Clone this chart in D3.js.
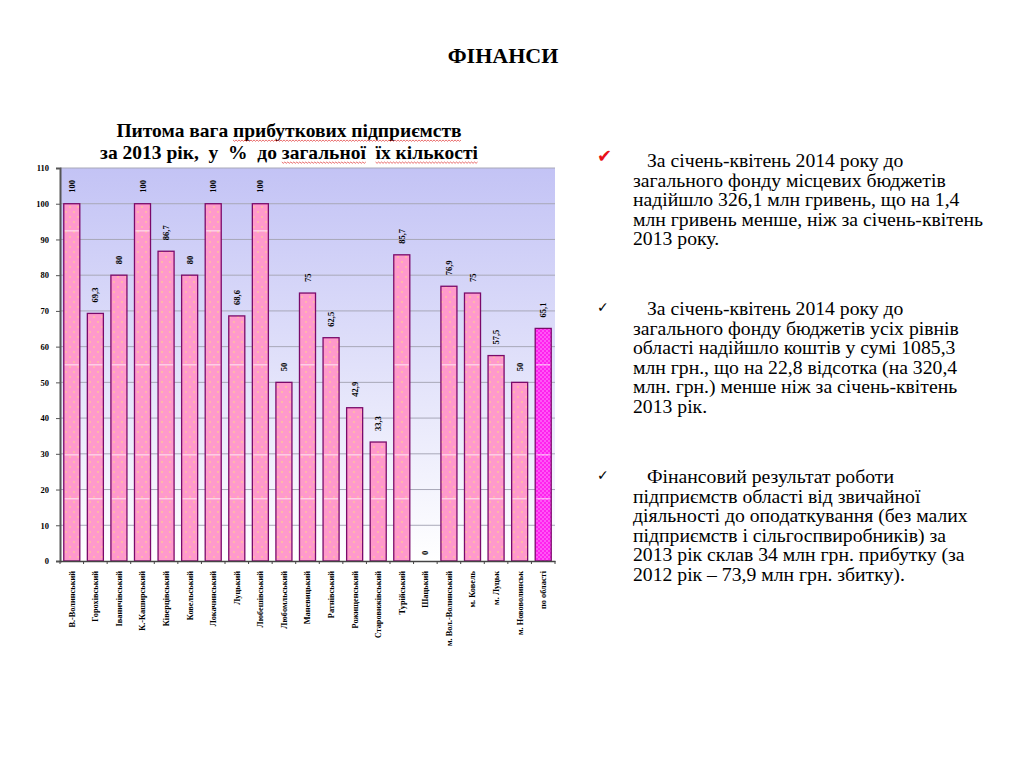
<!DOCTYPE html>
<html><head><meta charset="utf-8">
<script src="https://cdn.jsdelivr.net/npm/d3@7"></script>
<style>
html,body{margin:0;padding:0;background:#fff;}
svg{display:block;}
text{font-family:"Liberation Serif","Tinos","DejaVu Serif",serif;}
</style></head>
<body>
<svg id="c" width="1024" height="768"></svg>
<script>
const categories = ["В.-Волинський","Горохівський","Іваничівський","К.-Каширський","Ківерцівський","Ковельський","Локачинський","Луцький","Любешівський","Любомльський","Маневицький","Ратнівський","Рожищенський","Старовижівський","Турійський","Шацький","м. Вол.-Волинський","м. Ковель","м. Луцьк","м. Нововолинськ","по області"];
const values = [100,69.3,80,100,86.7,80,100,68.6,100,50,75,62.5,42.9,33.3,85.7,0,76.9,75,57.5,50,65.1];
const yTicks = [0,10,20,30,40,50,60,70,80,90,100,110];
const pageTitle = "ФІНАНСИ";
const chartTitle = ["Питома вага прибуткових підприємств","за 2013 рік,  у  %  до загальної  їх кількості"];
const paragraphs = [
  ["За січень-квітень 2014 року до","загального фонду місцевих бюджетів","надійшло 326,1 млн гривень, що на 1,4","млн гривень менше, ніж за січень-квітень","2013 року."],
  ["За січень-квітень 2014 року до","загального фонду бюджетів усіх рівнів","області надійшло коштів у сумі 1085,3","млн грн., що на 22,8 відсотка (на 320,4","млн. грн.) менше ніж за січень-квітень","2013 рік."],
  ["Фінансовий результат роботи","підприємств області від звичайної","діяльності до оподаткування (без малих","підприємств і сільгоспвиробників) за","2013 рік склав 34 млн грн. прибутку (за","2012 рік – 73,9 млн грн. збитку)."]
];

(function(){
const svg = d3.select("#c");
const defs = svg.append("defs");

const grad = defs.append("linearGradient").attr("id","bg").attr("x1",0).attr("y1",0).attr("x2",0).attr("y2",1);
grad.append("stop").attr("offset","0%").attr("stop-color","#c3c3f5");
grad.append("stop").attr("offset","100%").attr("stop-color","#ffffff");

const p1 = defs.append("pattern").attr("id","dots").attr("patternUnits","userSpaceOnUse").attr("width",8).attr("height",10);
p1.append("rect").attr("width",8).attr("height",10).attr("fill","#ff99cc");
p1.append("circle").attr("cx",2).attr("cy",2).attr("r",0.9).attr("fill","#ffc499");
p1.append("circle").attr("cx",6).attr("cy",7).attr("r",0.9).attr("fill","#ffc499");

const p2 = defs.append("pattern").attr("id","dots2").attr("patternUnits","userSpaceOnUse").attr("width",4).attr("height",4);
p2.append("rect").attr("width",4).attr("height",4).attr("fill","#ff22ee");
p2.append("circle").attr("cx",1).attr("cy",1).attr("r",0.8).attr("fill","#ff99ff");
p2.append("circle").attr("cx",3).attr("cy",3).attr("r",0.8).attr("fill","#ff99ff");

svg.append("text").attr("x",503).attr("y",63).attr("text-anchor","middle")
  .attr("font-weight","bold").attr("font-size",22).text(pageTitle);

const L=60, R=555, T=168, B=561;
const x = d3.scaleBand().domain(categories).range([L,R]).paddingInner(0.32).paddingOuter(0.16);
const y = d3.scaleLinear().domain([0,110]).range([B,T]);

svg.append("rect").attr("x",L).attr("y",T).attr("width",R-L).attr("height",B-T).attr("fill","url(#bg)");

svg.append("g").selectAll("line").data(yTicks.filter(d=>d>0)).join("line")
  .attr("x1",L).attr("x2",R).attr("y1",d=>y(d)).attr("y2",d=>y(d))
  .attr("stroke","#a8a8b8").attr("stroke-width",1);

const fmt = v => String(v).replace(".",",");

svg.append("g").selectAll("rect").data(values).join("rect")
  .attr("x",(d,i)=>x(categories[i])).attr("width",x.bandwidth())
  .attr("y",d=>y(d)).attr("height",d=>B-y(d))
  .attr("fill",(d,i)=>i===values.length-1?"url(#dots2)":"url(#dots)")
  .attr("stroke","#7a0a6a").attr("stroke-width",1.3);

const stripeLevels = [92.4,54.9,29.7,17.4];
values.forEach((v,i)=>{
  stripeLevels.filter(s=>s<v-1).forEach(s=>{
    svg.append("line").attr("x1",x(categories[i])+1).attr("x2",x(categories[i])+x.bandwidth()-1)
      .attr("y1",y(s)).attr("y2",y(s)).attr("stroke","#ffffff").attr("stroke-opacity",0.8).attr("stroke-width",1);
  });
});

svg.append("g").selectAll("text").data(values).join("text")
  .attr("transform",(d,i)=>`translate(${x(categories[i])+x.bandwidth()/2+3},${y(d)-(d===0?6:11)}) rotate(-90)`)
  .attr("text-anchor","start").attr("font-weight","bold").attr("font-size",8.5)
  .text(d=>fmt(d));

const gy = svg.append("g").attr("transform",`translate(${L},0)`).call(d3.axisLeft(y).tickValues(yTicks).tickSize(4).tickFormat(d3.format("d")));
gy.attr("font-family",null);
gy.select(".domain").attr("stroke","#555").attr("stroke-width",2);
gy.selectAll(".tick line").attr("stroke","#555");
gy.selectAll(".tick text").attr("font-weight","bold").attr("font-size",8.5).attr("fill","#000").attr("x",-11);

const gx = svg.append("g").attr("transform",`translate(0,${B})`).call(d3.axisBottom(x).tickSize(0).tickSizeOuter(0));
gx.attr("font-family",null);
gx.select(".domain").attr("stroke","#444").attr("stroke-width",1.5);
gx.selectAll(".tick text").attr("font-weight","bold").attr("font-size",8.3)
  .attr("fill","#000").attr("text-anchor","end").attr("transform","rotate(-90)").attr("x",-10).attr("y",0).attr("dy","0.35em");
const step = x.step();
svg.append("g").selectAll("line").data(d3.range(categories.length+1)).join("line")
  .attr("x1",i=>L+i*step).attr("x2",i=>L+i*step).attr("y1",B).attr("y2",B+3)
  .attr("stroke","#444");

const titleG = svg.append("g");
const tLines = [{t:chartTitle[0],y:137,under:["прибуткових підприємств"]},{t:chartTitle[1],y:159,under:["загальної","їх кількості"]}];
tLines.forEach(l=>{
  const te = titleG.append("text").attr("x",289).attr("y",l.y).attr("text-anchor","middle")
    .attr("font-weight","bold").attr("font-size",19.5).attr("fill","#000")
    .style("white-space","pre").text(l.t);
  const node = te.node();
  const bb = node.getBBox();
  l.under.forEach(w=>{
    const idx = l.t.indexOf(w);
    const sx = bb.x + (idx>0?node.getSubStringLength(0,idx):0);
    const wl = node.getSubStringLength(idx,w.length);
    const pts=[]; let k=0, j=0;
    while(k<=wl){pts.push([sx+k,l.y+3+(j%2?1.3:0)]); k+=1.5; j++;}
    titleG.append("path").attr("d",d3.line()(pts)).attr("fill","none").attr("stroke","#e03030").attr("stroke-width",0.7);
  });
});

const pStarts = [167,315,483];
const lh = 19.5;
paragraphs.forEach((lines,pi)=>{
  const g = svg.append("g");
  lines.forEach((ln,li)=>{
    g.append("text").attr("x",li===0?647:633).attr("y",pStarts[pi]+li*lh)
      .attr("font-size",19.7).attr("fill","#000").text(ln);
  });
  g.append("text").attr("x",597).attr("y",pStarts[pi]-(pi===0?5:3))
    .style("font-family","'DejaVu Sans',sans-serif").attr("font-size",pi===0?18:14)
    .attr("fill",pi===0?"#e8101a":"#000").text(pi===0?"✔":"✓");
});
})();
</script>
</body></html>
